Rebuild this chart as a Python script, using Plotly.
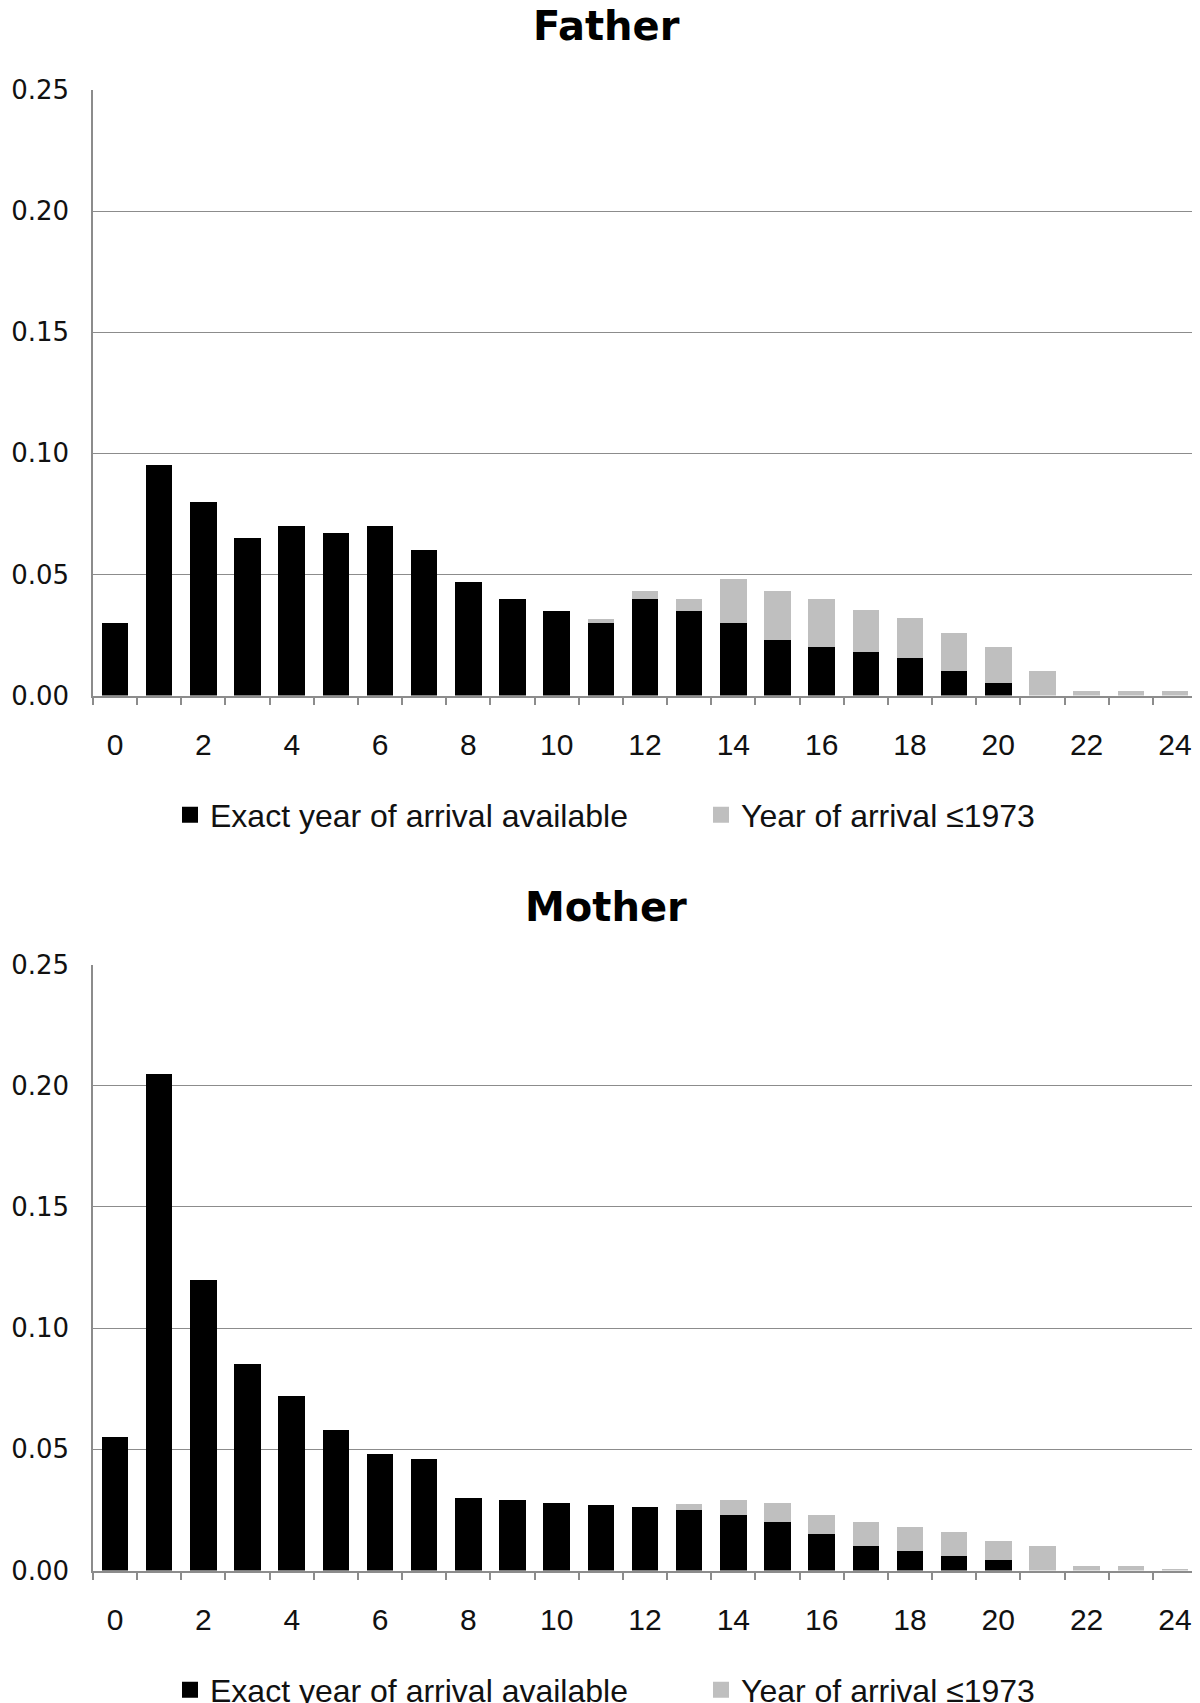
import plotly.graph_objects as go

# age at arrival (years) on x
ages = list(range(25))
age_ticks = list(range(0, 25, 2))

father_exact = [0.030, 0.095, 0.080, 0.065, 0.070, 0.067, 0.070, 0.060, 0.047, 0.040,
                0.035, 0.030, 0.040, 0.035, 0.030, 0.023, 0.020, 0.018, 0.0155, 0.010,
                0.005, 0.0, 0.0, 0.0, 0.0]
father_pre1973 = [0, 0, 0, 0, 0, 0, 0, 0, 0, 0,
                  0, 0.0015, 0.003, 0.005, 0.018, 0.020, 0.020, 0.0175, 0.0165, 0.016,
                  0.015, 0.010, 0.002, 0.002, 0.002]

mother_exact = [0.055, 0.205, 0.120, 0.085, 0.072, 0.058, 0.048, 0.046, 0.030, 0.029,
                0.028, 0.027, 0.026, 0.025, 0.023, 0.020, 0.015, 0.010, 0.008, 0.006,
                0.0045, 0.0, 0.0, 0.0, 0.0]
mother_pre1973 = [0, 0, 0, 0, 0, 0, 0, 0, 0, 0,
                  0, 0, 0, 0.0023, 0.006, 0.008, 0.008, 0.010, 0.010, 0.0097,
                  0.0075, 0.010, 0.0017, 0.0017, 0.0006]

names = ["Exact year of arrival available", "Year of arrival \u22641973"]
BLACK = "#000000"
GREY = "#bfbfbf"

# page is 1200x1703 but the html body has an 8px margin, so the figure is
# made smaller and everything is placed in page pixels minus that offset
OFF = 8
W, H = 1200 - OFF, 1703 - OFF
TXT = "Liberation Sans, Arial, sans-serif"
SANS = "DejaVu Sans, Verdana, sans-serif"


def px(x):
    return (x - OFF) / W


def py(y):
    return 1 - (y - OFF) / H


fig = go.Figure()

# title, values, legend id, plot top / bottom, legend y, title y (page px)
panels = [
    ("Father", father_exact, father_pre1973, "legend", 90, 695.5, 815, 26),
    ("Mother", mother_exact, mother_pre1973, "legend2", 964.5, 1570.5, 1690, 907),
]

for i, (title, exact, pre, lg, top, bottom, leg_y, tt_y) in enumerate(panels):
    sfx = "" if i == 0 else "2"
    fig.add_trace(go.Bar(x=ages, y=exact, name=names[0], marker_color=BLACK,
                         marker_line_width=0, xaxis="x" + sfx, yaxis="y" + sfx,
                         showlegend=False))
    fig.add_trace(go.Bar(x=ages, y=pre, name=names[1], marker_color=GREY,
                         marker_line_width=0, xaxis="x" + sfx, yaxis="y" + sfx,
                         showlegend=False))
    # legend entries with a bigger square key
    for nm, col in zip(names, [BLACK, GREY]):
        fig.add_trace(go.Scatter(x=[None], y=[None], mode="markers", name=nm,
                                 marker=dict(symbol="square", size=22, color=col),
                                 xaxis="x" + sfx, yaxis="y" + sfx, legend=lg))

axis_x = dict(
    domain=[px(93), px(1197)], range=[-0.5, 24.5],
    tickmode="array", tickvals=age_ticks, ticks="",
    showline=True, linecolor="#8c8c8c", linewidth=1.5,
    showgrid=False, zeroline=False,
    tickfont=dict(family=TXT, size=30, color="#111"),
    ticklabelstandoff=22,
    minor=dict(tickmode="linear", tick0=-0.5, dtick=1, ticks="outside",
               ticklen=8, tickcolor="#8c8c8c", tickwidth=1.5, showgrid=False),
)
axis_y = dict(
    range=[0, 0.25], dtick=0.05, tickformat=".2f",
    showline=True, linecolor="#8c8c8c", linewidth=1.5,
    showgrid=True, gridcolor="#8c8c8c", gridwidth=1.3, zeroline=False,
    tickfont=dict(family=SANS, size=26, color="#111"),
    ticklabelstandoff=17,
)

layout = dict(
    width=W, height=H, barmode="stack", bargap=0.4,
    paper_bgcolor="white", plot_bgcolor="white",
    margin=dict(l=0, r=0, t=0, b=0, autoexpand=False),
    showlegend=True,
    annotations=[],
)

for i, (title, exact, pre, lg, top, bottom, leg_y, tt_y) in enumerate(panels):
    sfx = "" if i == 0 else "2"
    layout["xaxis" + sfx] = dict(axis_x, anchor="y" + sfx)
    layout["yaxis" + sfx] = dict(axis_y, anchor="x" + sfx, domain=[py(bottom), py(top)])
    layout[lg] = dict(
        orientation="h", x=px(170), xanchor="left", y=py(leg_y), yanchor="middle",
        font=dict(family=TXT, size=32, color="#111"),
        entrywidth=486, entrywidthmode="pixels", bgcolor="rgba(0,0,0,0)",
        traceorder="normal", itemwidth=30,
    )
    layout["annotations"].append(dict(
        text="<b>%s</b>" % title, x=px(606), y=py(tt_y),
        xref="paper", yref="paper", xanchor="center", yanchor="middle",
        showarrow=False, font=dict(family=SANS, size=40, color="#000"),
    ))

fig.update_layout(**layout)
fig.write_html("out.html")
